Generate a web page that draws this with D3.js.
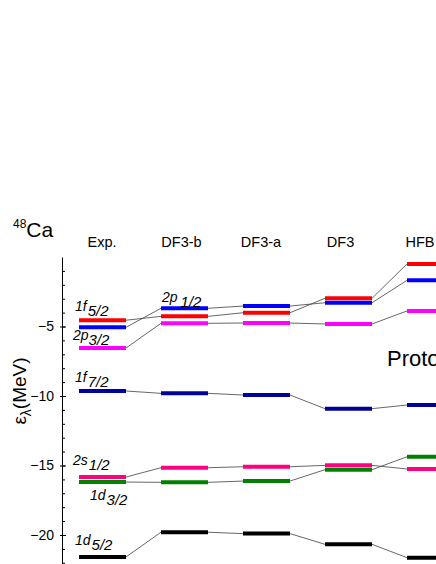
<!DOCTYPE html>
<html lang="en">
<head>
<meta charset="UTF-8">
<title>48Ca proton single-particle levels</title>
<script src="https://cdnjs.cloudflare.com/ajax/libs/d3/7.8.5/d3.min.js"></script>
<style>
    * { margin: 0; padding: 0; }
    body { background: #fff; width: 436px; height: 564px; overflow: hidden; }
    svg { display: block; font-family: 'Liberation Sans', Arial, sans-serif; }
</style>
</head>
<body>
<div id="chart"></div>
<script>
// Columns (calculations) and single-particle energies in MeV
const columns = ['Exp.', 'DF3-b', 'DF3-a', 'DF3', 'HFB'];
const f52 = [-4.55, -4.27, -4.01, -2.97, -0.50];
const p12 = [-5.06, -3.69, -3.53, -3.29, -1.68];
const p32 = [-6.55, -4.77, -4.75, -4.82, -3.88];
const f72 = [-9.64, -9.81, -9.93, -10.91, -10.65];
const s12 = [-15.83, -15.16, -15.09, -14.99, -15.25];
const d32 = [-16.19, -16.21, -16.12, -15.30, -14.37];
const d52 = [-21.58, -19.80, -19.90, -20.67, -21.63];
const yTicks = [-5, -10, -15, -20];

const series = [
    { name: '1f5/2', values: f52, color: '#ff0000' },
    { name: '2p1/2', values: p12, color: '#0000ff' },
    { name: '2p3/2', values: p32, color: '#ff00ff' },
    { name: '1f7/2', values: f72, color: '#00009c' },
    { name: '2s1/2', values: s12, color: '#ff0080' },
    { name: '1d3/2', values: d32, color: '#008000' },
    { name: '1d5/2', values: d52, color: '#000000' }
];

const width = 436, height = 564;

const svg = d3.select('#chart')
    .append('svg')
    .attr('width', width)
    .attr('height', height);

const x = d3.scaleBand()
    .domain(columns)
    .range([79, 454])
    .paddingInner(35 / 82);

const xLabel = d3.scalePoint()
    .domain(columns)
    .range([102, 420]);

const y = d3.scaleLinear()
    .domain([0, -22.5])
    .range([257, 569.75]);

// Minor ticks
svg.append('g')
    .attr('transform', 'translate(62,0)')
    .call(d3.axisLeft(y).tickValues(d3.range(-1, -23, -1)).tickSize(-3).tickSizeOuter(0).tickFormat(''))
    .call(g => g.select('.domain').remove())
    .selectAll('line').attr('stroke', '#000');

// Major axis
const yAxis = svg.append('g')
    .attr('transform', 'translate(62,0)')
    .call(d3.axisLeft(y).tickValues(yTicks).tickSize(-4).tickSizeOuter(0).tickPadding(8));
yAxis.select('.domain').attr('stroke', '#000');
yAxis.selectAll('.tick line').attr('x1', -2).attr('stroke', '#000');
yAxis.selectAll('.tick text')
    .attr('font-size', 14)
    .attr('font-family', "'Liberation Sans', Arial, sans-serif")
    .attr('fill', '#000');

// Connecting lines
series.forEach(s => {
    const segs = d3.pairs(columns.map((c, i) => ({ c, v: s.values[i] })));
    svg.append('g').selectAll('line')
        .data(segs)
        .enter()
        .append('line')
        .attr('x1', d => x(d[0].c) + x.bandwidth())
        .attr('y1', d => y(d[0].v))
        .attr('x2', d => x(d[1].c))
        .attr('y2', d => y(d[1].v))
        .attr('stroke', '#404040')
        .attr('stroke-width', 0.8);
});

// Level bars
series.forEach(s => {
    svg.append('g').selectAll('line')
        .data(columns.map((c, i) => ({ c, v: s.values[i] })))
        .enter()
        .append('line')
        .attr('x1', d => x(d.c))
        .attr('x2', d => x(d.c) + x.bandwidth())
        .attr('y1', d => y(d.v))
        .attr('y2', d => y(d.v))
        .attr('stroke', s.color)
        .attr('stroke-width', 4);
});

// Column titles
svg.append('g').selectAll('text')
    .data(columns)
    .enter()
    .append('text')
    .attr('x', d => xLabel(d))
    .attr('y', 247)
    .attr('text-anchor', 'middle')
    .attr('font-size', 14.5)
    .text(d => d);

// Level labels
function levelLabel(main, sub, px, py, gap) {
    const t = svg.append('text')
        .attr('x', px)
        .attr('y', py)
        .attr('font-size', 14)
        .attr('font-style', 'italic');
    t.append('tspan').text(main);
    t.append('tspan').attr('dx', gap).attr('dy', 5).attr('font-size', 15).text(sub);
}
levelLabel('1f', '5/2', x('Exp.') - 4, y(f52[0]) - 9, 1);
levelLabel('2p', '3/2', x('Exp.') - 6, y(p32[0]) - 8, 0);
levelLabel('2p', '1/2', x('DF3-b') + 1, y(p12[1]) - 6, 3);
levelLabel('1f', '7/2', x('Exp.') - 4, y(f72[0]) - 9, 1);
levelLabel('2s', '1/2', x('Exp.') - 6, y(s12[0]) - 12, 1);
levelLabel('1d', '3/2', x('Exp.') + 11, y(d32[0]) + 18, 1);
levelLabel('1d', '5/2', x('Exp.') - 4, y(d52[0]) - 12, 1);

// Nucleus
const ca = svg.append('text').attr('x', 13).attr('y', 237);
ca.append('tspan').attr('font-size', 12).attr('dy', -9).text('48');
ca.append('tspan').attr('font-size', 21).attr('dy', 9).text('Ca');

// Y-axis title
const yt = svg.append('text')
    .attr('transform', 'translate(26,391) rotate(-90)')
    .attr('text-anchor', 'middle')
    .attr('font-size', 19);
yt.append('tspan').text('ε');
yt.append('tspan').attr('font-size', 14).attr('dy', 5).text('λ');
yt.append('tspan').attr('dy', -5).text('(MeV)');

// Panel tag (cut by the right edge, as in the original figure)
svg.append('text')
    .attr('x', 387)
    .attr('y', 366)
    .attr('font-size', 22)
    .text('Protons');
</script>
</body>
</html>
